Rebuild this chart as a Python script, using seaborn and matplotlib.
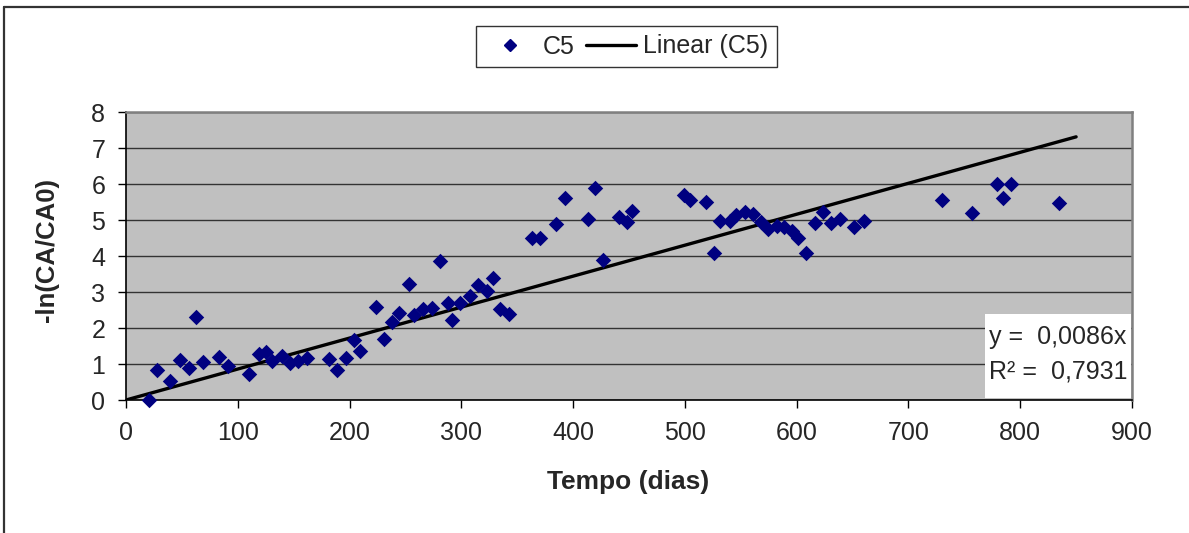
import matplotlib
matplotlib.use("Agg")
import matplotlib.pyplot as plt
from matplotlib.lines import Line2D
from matplotlib.patches import Rectangle
import seaborn as sns
import numpy as np
import pandas as pd

# ---- data ----
tempo = [21, 28, 39, 48, 56, 63, 69, 83, 91, 110, 119, 125, 131, 140, 147, 154, 162,
         182, 189, 197, 204, 209, 224, 231, 238, 244, 253, 258, 266, 274, 281, 288,
         292, 299, 308, 315, 323, 328, 335, 343, 363, 370, 385, 393, 413, 420, 427,
         441, 448, 453, 499, 505, 519, 526, 531, 540, 546, 554, 561, 568, 574, 582,
         589, 596, 601, 608, 616, 624, 631, 639, 651, 660, 730, 757, 779, 785, 792, 835]
ln_ratio = [0.00, 0.83, 0.54, 1.11, 0.88, 2.31, 1.05, 1.20, 0.94, 0.72, 1.28, 1.34, 1.08,
            1.22, 1.02, 1.09, 1.16, 1.14, 0.83, 1.16, 1.67, 1.37, 2.59, 1.70, 2.18, 2.41,
            3.22, 2.36, 2.52, 2.56, 3.86, 2.70, 2.21, 2.70, 2.90, 3.19, 3.03, 3.40, 2.54,
            2.39, 4.49, 4.49, 4.88, 5.62, 5.03, 5.88, 3.89, 5.09, 4.95, 5.25, 5.69, 5.56,
            5.51, 4.07, 4.97, 4.97, 5.14, 5.21, 5.16, 4.95, 4.75, 4.83, 4.81, 4.69, 4.49,
            4.07, 4.92, 5.23, 4.93, 5.03, 4.81, 4.97, 5.56, 5.19, 5.99, 5.60, 5.99, 5.46]
trend_slope = 0.0086
trend_r2 = 0.7931
trend_x = [0, 850]
x_ticks = [0, 100, 200, 300, 400, 500, 600, 700, 800, 900]
y_ticks = [0, 1, 2, 3, 4, 5, 6, 7, 8]
series_label = "C5"
trend_label = "Linear (C5)"
x_title = "Tempo (dias)"
y_title = "-ln(CA/CA0)"

df = pd.DataFrame({"tempo": tempo, "val": ln_ratio})
trend_df = pd.DataFrame({"x": trend_x, "y": [trend_slope * v for v in trend_x]})

sns.set_style("white")
plt.rcParams["font.family"] = ["Liberation Sans", "DejaVu Sans"]

W, H = 1189, 533
fig = plt.figure(figsize=(W / 100, H / 100), dpi=100)
fig.patch.set_facecolor("white")

L, R, T, B = 126, 1132, 112, 400
ax = fig.add_axes([L / W, 1 - B / H, (R - L) / W, (B - T) / H])
ax.set_facecolor("#C0C0C0")

navy = "#000080"
sns.scatterplot(data=df, x="tempo", y="val", ax=ax, marker="D", s=62,
                color=navy, edgecolor=navy, linewidth=0, zorder=5, legend=False,
                clip_on=False)
sns.lineplot(data=trend_df, x="x", y="y", ax=ax, color="black", linewidth=2.4,
             zorder=4, legend=False)

ax.set_xlim(0, 900)
ax.set_ylim(0, 8)
ax.set_xticks(x_ticks)
ax.set_yticks(y_ticks)
ax.set_xlabel("")
ax.set_ylabel("")
ax.yaxis.grid(True, color="#333333", linewidth=1.0, zorder=1)
ax.xaxis.grid(False)
ax.set_axisbelow(True)
ax.tick_params(axis="both", direction="out", length=6, width=1, color="black",
               labelsize=18, pad=9, bottom=True, left=True)
for s in ["left", "bottom"]:
    ax.spines[s].set_color("black")
    ax.spines[s].set_linewidth(1.2)
for s in ["top", "right"]:
    ax.spines[s].set_color("#808080")
    ax.spines[s].set_linewidth(1.8)

# equation box
bx0 = (985 - L) / (R - L)
by0 = (400 - 398) / (B - T)
bh = (398 - 314) / (B - T)
ax.add_patch(Rectangle((bx0, by0), 1 - bx0 - 0.001, bh, transform=ax.transAxes,
                       facecolor="white", edgecolor="none", zorder=3))
ax.text((989 - L) / (R - L), (400 - 337) / (B - T),
        f"y =  {str(trend_slope).replace('.', ',')}x",
        transform=ax.transAxes, ha="left", va="center", fontsize=18, zorder=6)
ax.text((989 - L) / (R - L), (400 - 372) / (B - T),
        f"R² =  {str(trend_r2).replace('.', ',')}",
        transform=ax.transAxes, ha="left", va="center", fontsize=18, zorder=6)

# axis titles
fig.text(628 / W, 1 - 482 / H, x_title, ha="center", va="center", fontsize=19,
         fontweight="bold")
fig.text(47 / W, 1 - 250 / H, y_title, ha="center", va="center", fontsize=18.5,
         fontweight="bold", rotation=90)

# legend
handles = [Line2D([], [], marker="D", color=navy, linestyle="none", markersize=6.5),
           Line2D([], [], color="black", linewidth=2.4)]
leg = fig.legend(handles, [series_label, trend_label], loc="center",
                 bbox_to_anchor=(626.5 / W, 1 - 46.5 / H), ncol=2, fontsize=18,
                 frameon=True, fancybox=False, edgecolor="black", handlelength=2.0,
                 handletextpad=0.3, columnspacing=0.45, borderpad=0.35,
                 borderaxespad=0)
leg.get_frame().set_linewidth(1.0)

# chart-area border (left and top visible)
fig.add_artist(Line2D([4 / W, 4 / W], [0, 1 - 7 / H], transform=fig.transFigure,
                      color="#333333", linewidth=1.6))
fig.add_artist(Line2D([4 / W, 1], [1 - 7 / H, 1 - 7 / H], transform=fig.transFigure,
                      color="#333333", linewidth=1.6))

fig.savefig("out.png", dpi=100)
